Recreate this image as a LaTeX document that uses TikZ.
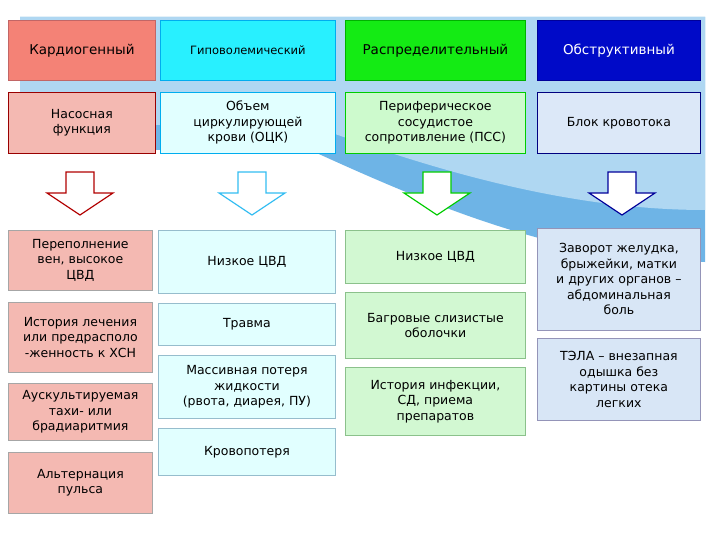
\documentclass[tikz,border=0pt]{standalone}
\usepackage{fontspec}
\setmainfont{DejaVu Sans}
\definecolor{bgA}{RGB}{110,180,230}
\definecolor{bgB}{RGB}{175,215,242}
\begin{document}
\begin{tikzpicture}[x=1pt,y=-1pt,
 bx/.style={draw=#1,line width=0.8pt,align=center,font=\fontsize{12.5}{15.5}\selectfont,inner sep=2pt},
 hd/.style={font=\fontsize{13.5}{15}\selectfont,align=center},
 arr/.style={draw=#1,line width=1.2pt,fill=white,line join=miter}]
\useasboundingbox (0,0) rectangle (720,540);
\fill[white] (0,0) rectangle (720,540);
\fill[bgA] (20,17) -- (705,17) -- (705,262) .. controls (560,262) and (420,200) .. (310,150) -- (20,150) -- cycle;
\fill[bgB] (20,17) -- (705,17) -- (705,210) .. controls (560,210) and (420,165) .. (310,125) -- (20,125) -- cycle;
% headers
\node[bx=red!60!black!60, fill={rgb,255:red,244;green,130;blue,118}, minimum width=147, minimum height=60, anchor=north west, hd] (h1) at (8,20) {Кардиогенный};
\node[bx=cyan, fill={rgb,255:red,40;green,240;blue,255}, minimum width=175, minimum height=60, anchor=north west, font=\fontsize{11.5}{13}\selectfont] (h2) at (160,20) {Гиповолемический};
\node[bx=green!70!black, fill={rgb,255:red,20;green,235;blue,20}, minimum width=180, minimum height=60, anchor=north west, hd] (h3) at (345,20) {Распределительный};
\node[bx=blue!60!black, fill={rgb,255:red,0;green,10;blue,200}, text=white, minimum width=163, minimum height=60, anchor=north west, hd] (h4) at (537,20) {Обструктивный};
% row 2
\node[bx=red!60!black, fill={rgb,255:red,244;green,185;blue,178}, minimum width=147, minimum height=61, anchor=north west] (r1) at (8,92) {Насосная\\функция};
\node[bx=cyan, fill={rgb,255:red,225;green,255;blue,255}, minimum width=175, minimum height=61, anchor=north west] (r2) at (160,92) {Объем\\циркулирующей\\крови (ОЦК)};
\node[bx=green!80!black, fill={rgb,255:red,205;green,250;blue,205}, minimum width=180, minimum height=61, anchor=north west] (r3) at (345,92) {Периферическое\\сосудистое\\сопротивление (ПСС)};
\node[bx=blue!50!black, fill={rgb,255:red,220;green,232;blue,248}, minimum width=163, minimum height=61, anchor=north west] (r4) at (537,92) {Блок кровотока};
% arrows
\foreach \cx/\c in {80/red!70!black, 252/cyan!80!white, 437/green!80!black, 622/blue!60!black}{
 \draw[arr=\c] (\cx-14,172) -- (\cx+14,172) -- (\cx+14,193) -- (\cx+33,193) -- (\cx,215) -- (\cx-33,193) -- (\cx-14,193) -- cycle;}
\tikzset{c1/.style={bx=gray!70, fill={rgb,255:red,244;green,185;blue,178}, minimum width=144, anchor=north west},
 c2/.style={bx=cyan!40!gray!70, fill={rgb,255:red,225;green,255;blue,255}, minimum width=177, anchor=north west},
 c3/.style={bx=green!30!gray!70, fill={rgb,255:red,210;green,248;blue,210}, minimum width=180, anchor=north west},
 c4/.style={bx=blue!20!gray!70, fill={rgb,255:red,216;green,230;blue,246}, minimum width=163, anchor=north west}}
\node[c1, minimum height=60] (a1) at (8,230) {Переполнение\\вен, высокое\\ЦВД};
\node[c1, minimum height=70] (a2) at (8,302) {История лечения\\или предрасполо\\-женность к ХСН};
\node[c1, minimum height=57] (a3) at (8,383) {Аускультируемая\\тахи- или\\брадиаритмия};
\node[c1, minimum height=61] (a4) at (8,452) {Альтернация\\пульса};
\node[c2, minimum height=63] (b1) at (158,230) {Низкое ЦВД};
\node[c2, minimum height=42] (b2) at (158,303) {Травма};
\node[c2, minimum height=63] (b3) at (158,355) {Массивная потеря\\жидкости\\(рвота, диарея, ПУ)};
\node[c2, minimum height=47] (b4) at (158,428) {Кровопотеря};
\node[c3, minimum height=53] (d1) at (345,230) {Низкое ЦВД};
\node[c3, minimum height=66] (d2) at (345,292) {Багровые слизистые\\оболочки};
\node[c3, minimum height=68] (d3) at (345,367) {История инфекции,\\СД, приема\\препаратов};
\node[c4, minimum height=102] (e1) at (537,228) {Заворот желудка,\\брыжейки, матки\\и других органов –\\абдоминальная\\боль};
\node[c4, minimum height=82] (e2) at (537,338) {ТЭЛА – внезапная\\одышка без\\картины отека\\легких};
\end{tikzpicture}
\end{document}
